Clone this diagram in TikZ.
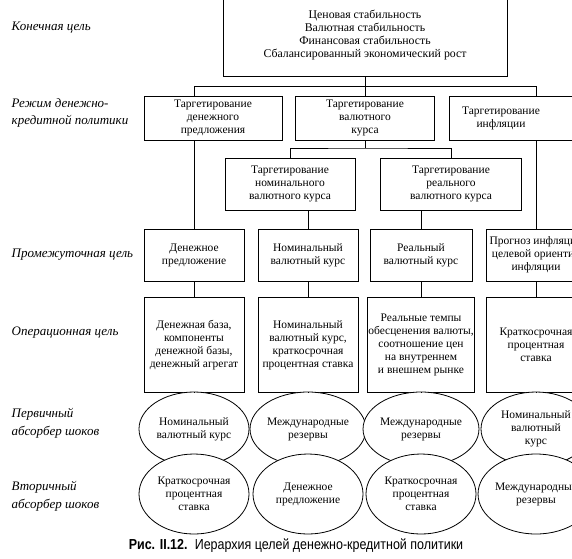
\documentclass[tikz,border=0pt]{standalone}
\usepackage{fontspec}
\setmainfont{Liberation Serif}
\newfontfamily\capfont[FakeStretch=0.86]{Liberation Sans}
\usetikzlibrary{positioning,shapes.geometric}

\begin{document}
\begin{tikzpicture}[x=1pt,y=-1pt,line width=0.8pt]
  \tikzset{
    box/.style={rectangle, draw, align=center, inner sep=1pt,
      font=\fontsize{11.5}{13}\selectfont},
    shock/.style={ellipse, draw, fill=white, align=center, inner sep=0pt,
      minimum width=110, minimum height=74, font=\fontsize{11.5}{13}\selectfont},
    level/.style={anchor=west, align=left, font=\fontsize{13}{17.5}\selectfont\itshape}}
  \useasboundingbox (0,0) rectangle (572,558);
  \clip (0,0) rectangle (572,558);
  % Final goal
  \node[box, minimum width=284, minimum height=82, font=\fontsize{11.8}{13}\selectfont] (goal) at (365,35)
    {Ценовая стабильность\\Валютная стабильность\\Финансовая стабильность\\Сбалансированный экономический рост};
  % Policy regimes
  \node[box, minimum width=138, minimum height=44] (tms)  at (213,118) {Таргетирование\\денежного\\предложения};
  \node[box, minimum width=139, minimum height=44] (ter)  at (365,118) {Таргетирование\\валютного\\курса};
  \node[box, minimum width=139, minimum height=44] (tinf) at (519,118) {Таргетирование\hspace*{36pt}\\инфляции\hspace*{36pt}};
  \node[box, minimum width=130, minimum height=52] (tnom)  at (290,184) {Таргетирование\\номинального\\валютного курса};
  \node[box, minimum width=141, minimum height=52] (treal) at (451,184) {Таргетирование\\реального\\валютного курса};
  % Intermediate goals
  \node[box, minimum width=100, minimum height=52] (im1) at (194,255) {Денежное\\предложение};
  \node[box, minimum width=100, minimum height=52] (im2) at (308,255) {Номинальный\\валютный курс};
  \node[box, minimum width=102, minimum height=52] (im3) at (421,255) {Реальный\\валютный курс};
  \node[box, minimum width=100, minimum height=52] (im4) at (536,255) {Прогноз инфляции\\целевой ориентир\\инфляции};
  % Operational goals
  \node[box, minimum width=100, minimum height=95] (op1) at (194,345) {Денежная база,\\компоненты\\денежной базы,\\денежный агрегат};
  \node[box, minimum width=100, minimum height=95] (op2) at (308,345) {Номинальный\\валютный курс,\\краткосрочная\\процентная ставка};
  \node[box, minimum width=104, minimum height=95] (op3) at (421,345) {Реальные темпы\\обесценения валюты,\\соотношение цен\\на внутреннем\\и внешнем рынке};
  \node[box, minimum width=100, minimum height=95] (op4) at (536,345) {Краткосрочная\\процентная\\ставка};
  % Shock absorbers
  \node[shock] (ps1) at (194,429) {Номинальный\\валютный курс};
  \node[shock] (ps2) at (308,429) {Международные\\резервы};
  \node[shock] (ps3) at (421,429) {Международные\\резервы};
  \node[shock] (ps4) at (536,429) {Номинальный\\валютный\\курс};
  \node[shock, minimum height=80] (ss1) at (194,494) {Краткосрочная\\процентная\\ставка};
  \node[shock, minimum height=80] (ss2) at (308,494) {Денежное\\предложение};
  \node[shock, minimum height=80] (ss3) at (421,494) {Краткосрочная\\процентная\\ставка};
  \node[shock, minimum height=80] (ss4) at (536,494) {Международные\\резервы};
  % Connectors
  \coordinate (j1) at (365,86);
  \coordinate (j2) at (365,148);
  \draw (goal.south) -- (j1);
  \draw (j1 -| im1.north) -- (j1 -| im4.north);
  \draw (j1 -| im1.north) -- (tms.north -| im1.north);
  \draw (j1) -- (ter.north);
  \draw (j1 -| im4.north) -- (tinf.north -| im4.north);
  \draw (tms.south -| im1.north) -- (im1.north);
  \draw (tinf.south -| im4.north) -- (im4.north);
  \draw (ter.south) -- (j2);
  \draw (tnom.north) |- (j2) -| (treal.north);
  \draw (tnom.south -| im2.north) -- (im2.north);
  \draw (treal.south -| im3.north) -- (im3.north);
  \foreach \i in {1,...,4} {
    \draw (im\i.south) -- (op\i.north);
    \draw (op\i.south) -- (ps\i.north);
  }
  % Level labels
  \node[level] (lgoal) at (8,28)  {Конечная цель};
  \node[level] (lreg)  at (8,113) {Режим денежно-\\кредитной политики};
  \node[level] (lint)  at (8,255) {Промежуточная цель};
  \node[level] (lop)   at (8,333) {Операционная цель};
  \node[level] (lps)   at (8,423) {Первичный\\абсорбер шоков};
  \node[level] (lss)   at (8,496) {Вторичный\\абсорбер шоков};
  % Caption
  \node[font=\capfont\fontsize{14.5}{16}\selectfont] (cap) at (296,546)
    {\textbf{Рис. II.12.}\enspace Иерархия целей денежно-кредитной политики};
\end{tikzpicture}
\end{document}
